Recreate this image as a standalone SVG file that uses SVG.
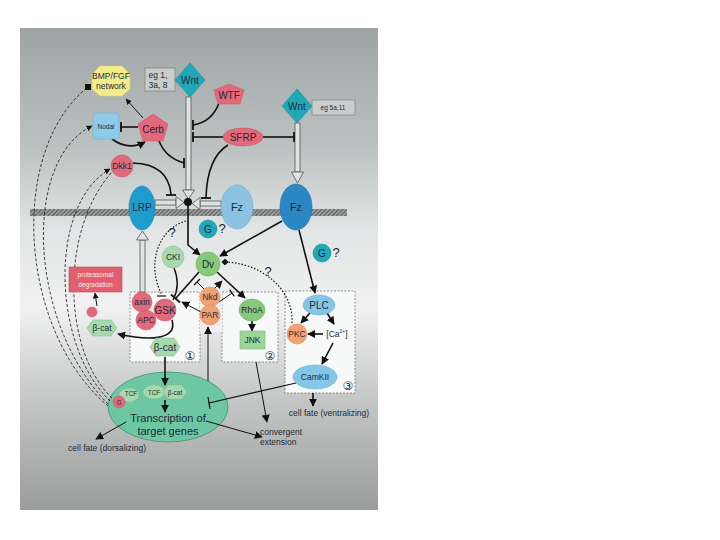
<svg xmlns="http://www.w3.org/2000/svg" width="720" height="540" viewBox="0 0 720 540">
<defs>
<linearGradient id="bg" x1="0" y1="0" x2="0" y2="1">
<stop offset="0" stop-color="#9da4a3"/>
<stop offset="0.25" stop-color="#bcc2c1"/>
<stop offset="0.42" stop-color="#e2e5e5"/>
<stop offset="0.58" stop-color="#f1f1f1"/>
<stop offset="0.75" stop-color="#c9cbcb"/>
<stop offset="1" stop-color="#9a9c9c"/>
</linearGradient>
<pattern id="hatch" width="3" height="3" patternUnits="userSpaceOnUse" patternTransform="rotate(45)">
<rect width="3" height="3" fill="#9a9a9a"/>
<line x1="0" y1="0" x2="0" y2="3" stroke="#3a3a3a" stroke-width="1.2"/>
</pattern>
<marker id="ah" viewBox="0 0 10 10" refX="9" refY="5" markerWidth="8" markerHeight="8" markerUnits="userSpaceOnUse" orient="auto">
<path d="M0,0 L10,5 L0,10 z" fill="#111"/>
</marker>
<marker id="ahs" viewBox="0 0 10 10" refX="9" refY="5" markerWidth="6" markerHeight="6" markerUnits="userSpaceOnUse" orient="auto">
<path d="M0,0 L10,5 L0,10 z" fill="#111"/>
</marker>
<marker id="ahd" viewBox="0 0 10 10" refX="5" refY="5" markerWidth="7" markerHeight="7" markerUnits="userSpaceOnUse" orient="auto">
<path d="M0,5 L5,0 L10,5 L5,10 z" fill="#111"/>
</marker>
</defs>
<style>
text{font-family:"Liberation Sans",Arial,sans-serif;fill:#1f2a36;text-anchor:middle;dominant-baseline:central}
.s{font-size:8.5px}
.xs{font-size:6.5px}
.m{font-size:10px}
.l{font-size:11px}
.w{fill:#fbecee}
.red{fill:#e2687a;stroke:#c9566a;stroke-width:0.6}
.teal{fill:#20a8b8;stroke:#1a8f9e;stroke-width:0.6}
.grn{fill:#86c97a;stroke:#6aae60;stroke-width:0.6}
.lgrn{fill:#a6d9ae;stroke:#84bf8e;stroke-width:0.6}
.org{fill:#f1a275;stroke:#d98a5e;stroke-width:0.6}
.lblue{fill:#84c6e6;stroke:#6aaed0;stroke-width:0.6}
.c{fill:none;stroke:#111;stroke-width:1.6}
.t{fill:none;stroke:#111;stroke-width:1}
.bar{stroke:#111;stroke-width:1.8}
.dash{fill:none;stroke:#111;stroke-width:0.8;stroke-dasharray:3 2}
.dot{fill:none;stroke:#111;stroke-width:1.2;stroke-dasharray:1.5 1.8}
.box{fill:#f7f8f8;stroke:#666;stroke-width:0.7;stroke-dasharray:2 1.5}
.dbl{fill:#dfe2e2;stroke:#555;stroke-width:0.8}
.egbox{fill:#c9cdcc;stroke:#7a7f7e;stroke-width:0.7}
.q{font-size:13px;fill:#222}
.num{font-family:"DejaVu Sans","Noto Sans CJK JP",sans-serif;font-size:12px}
</style>
<rect x="0" y="0" width="720" height="540" fill="#ffffff"/>
<rect x="20" y="28" width="358" height="482" fill="url(#bg)"/>
<rect id="membrane" x="30" y="209" width="317" height="7" fill="url(#hatch)"/>
<g id="box1"><rect class="box" x="130" y="292" width="70" height="70"/><text class="num" x="190" y="356">①</text></g>
<g id="box2"><rect class="box" x="222" y="292" width="56" height="70"/><text class="num" x="270" y="356">②</text></g>
<g id="box3"><rect class="box" x="285" y="291" width="70" height="102"/><text class="num" x="348" y="386">③</text></g>
<g id="nkdband"><rect x="200" y="292" width="22" height="40" fill="#eef0f0"/></g>

<g id="transcription">
<ellipse cx="168" cy="407" rx="60" ry="35" fill="#6cc7a2" stroke="#3f8f70" stroke-width="0.8"/>
<text class="l" x="168" y="418">Transcription of</text>
<text class="l" x="168" y="431">target genes</text>
</g>

<g id="connectors">
<rect class="dbl" x="186" y="97" width="5" height="93"/>
<polygon class="dbl" points="182.5,190 194.5,190 188.5,199"/>
<rect class="dbl" x="295" y="123" width="5" height="49"/>
<polygon class="dbl" points="291.5,172 303.5,172 297.5,183"/>
<rect class="dbl" x="155" y="200" width="21" height="5"/>
<polygon class="dbl" points="176,196.5 176,208.5 184,202.5"/>
<rect class="dbl" x="200" y="201" width="21" height="5"/>
<polygon class="dbl" points="200,197.5 200,209.5 192,203.5"/>
<rect class="dbl" x="140" y="240" width="5" height="52"/>
<polygon class="dbl" points="136.5,240 148.5,240 142.5,231"/>
<circle cx="188" cy="202" r="4" fill="#111"/>
<line class="t" x1="143" y1="118" x2="126" y2="99" marker-end="url(#ahs)"/>
<line class="c" x1="138" y1="127" x2="121" y2="127"/>
<line class="bar" x1="121" y1="122" x2="121" y2="132"/>
<path class="c" d="M112,139 Q128,151 145,142" marker-end="url(#ah)"/>
<path class="c" d="M159,141 Q166,158 184,163"/>
<line class="bar" x1="184" y1="158" x2="184" y2="168"/>
<path class="c" d="M219,103 Q212,122 193,125"/>
<line class="bar" x1="193" y1="120" x2="193" y2="130"/>
<line class="c" x1="193" y1="137" x2="224" y2="137"/>
<line class="bar" x1="193" y1="132" x2="193" y2="142"/>
<line class="c" x1="262" y1="137" x2="294" y2="137"/>
<line class="bar" x1="294" y1="132" x2="294" y2="142"/>
<path class="c" d="M228,145 Q207,158 206,198"/>
<line class="bar" x1="201" y1="198" x2="211" y2="198"/>
<path class="c" d="M133,163 Q168,164 171,194"/>
<line class="bar" x1="166" y1="195" x2="176" y2="195"/>
<path class="c" d="M188,202 L188,245 L200,255" marker-end="url(#ah)"/>
<line class="c" x1="282" y1="221" x2="220" y2="256" marker-end="url(#ah)"/>
<line class="c" x1="299" y1="230" x2="315" y2="293" marker-end="url(#ah)"/>
<path class="dot" d="M186,221 C160,228 145,262 162,295"/>
<line class="bar" x1="157" y1="296" x2="166" y2="296" style="stroke-width:1.2"/>
<path class="t" d="M174,268 Q181,285 173,300" style="stroke-width:1.4"/>
<line class="c" x1="199" y1="272" x2="176" y2="298"/>
<line class="bar" x1="171" y1="294.5" x2="180" y2="302.5"/>
<line class="t" x1="201" y1="312" x2="182" y2="302" marker-end="url(#ah)"/>
<line class="t" x1="204" y1="289" x2="197" y2="282"/>
<line class="bar" x1="194" y1="285" x2="200" y2="279" style="stroke-width:1.2"/>
<line class="t" x1="214" y1="289" x2="222" y2="281" marker-end="url(#ah)"/>
<line class="t" x1="219" y1="302" x2="232" y2="293"/>
<line class="bar" x1="229.7" y1="289.7" x2="234.3" y2="296.3" style="stroke-width:1.2"/>
<line class="c" x1="217" y1="272" x2="245" y2="298" marker-end="url(#ah)"/>
<line class="c" x1="252" y1="321" x2="252" y2="331" marker-end="url(#ah)"/>
<path class="dot" d="M292,323 C294,290 262,263 225,262" marker-end="url(#ahd)"/>
<line class="c" x1="310" y1="313" x2="301" y2="323" marker-end="url(#ah)"/>
<line class="c" x1="327" y1="313" x2="334" y2="324" marker-end="url(#ah)"/>
<line class="c" x1="323" y1="334" x2="308" y2="334" marker-end="url(#ah)"/>
<line class="c" x1="333" y1="343" x2="322" y2="364" marker-end="url(#ah)"/>
<line class="t" x1="296" y1="383" x2="209" y2="403" style="stroke-width:1.2"/>
<line class="bar" x1="208" y1="397" x2="210" y2="409" style="stroke-width:1.2"/>
<line class="c" x1="313" y1="393" x2="313" y2="406" marker-end="url(#ah)"/>
<line class="t" x1="256" y1="362" x2="267" y2="422" marker-end="url(#ah)"/>
<line class="t" x1="206" y1="421" x2="262" y2="437" marker-end="url(#ah)"/>
<line class="t" x1="208" y1="381" x2="208" y2="327" marker-end="url(#ah)"/>
<line class="c" x1="165" y1="357" x2="165" y2="385" marker-end="url(#ah)"/>
<line class="c" x1="165" y1="400" x2="165" y2="412" marker-end="url(#ah)"/>
<line class="t" x1="126" y1="422" x2="96" y2="439" marker-end="url(#ah)"/>
<path class="c" d="M172,320 C178,340 150,341 118,334" marker-end="url(#ah)"/>
<line class="t" x1="97" y1="306" x2="95" y2="293" marker-end="url(#ahs)"/>
<path class="dash" d="M108,406 C18,330 8,150 88,87"/>
<rect x="85" y="84" width="6" height="6" fill="#111"/>
<path class="dash" d="M108,404 C28,322 22,160 92,126" marker-end="url(#ahs)"/>
<path class="dash" d="M110,401 C52,345 48,205 110,169" marker-end="url(#ahs)"/>
<path class="dash" d="M112,398 C62,350 60,230 112,172"/>
</g>

<g id="bmp"><polygon points="100,66 122,66 130,74 130,89 122,96 100,96 92,89 92,74" fill="#f3ec8a" stroke="#d9d070" stroke-width="0.6"/><text class="s" x="111" y="76">BMP/FGF</text><text class="s" x="111" y="86">network</text></g>
<g id="eg1"><rect class="egbox" x="145" y="68" width="30" height="23"/><text class="s" x="158" y="75">eg 1,</text><text class="s" x="158" y="85">3a, 8</text></g>
<g id="wnt1"><polygon class="teal" points="190,63 205,80 190,97 175,80"/><text class="m" x="190" y="80">Wnt</text></g>
<g id="wtf"><polygon class="red" points="229,84 244,90 240,104 218,104 214,90"/><text class="m" x="229" y="95">WTF</text></g>
<g id="wnt2"><polygon class="teal" points="297,89 312,106 297,123 282,106"/><text class="m" x="297" y="106">Wnt</text></g>
<g id="eg2"><rect class="egbox" x="312" y="100" width="43" height="15"/><text class="xs" x="333" y="107.5">eg 5a,11</text></g>
<g id="nodal"><rect x="93" y="113" width="26" height="26" rx="3" fill="#8ecbe9" stroke="#6cb0d2" stroke-width="0.6"/><text class="xs" x="106" y="126">Nodal</text></g>
<g id="cerb"><polygon class="red" points="153,114 168,124 163,141 143,141 138,124"/><text class="m" x="153" y="129">Cerb</text></g>
<g id="sfrp"><ellipse class="red" cx="243" cy="137" rx="20" ry="9"/><text class="m" x="243" y="137">SFRP</text></g>
<g id="dkk1"><circle class="red" cx="122" cy="166" r="11"/><text class="s" x="122" y="166">Dkk1</text></g>
<g id="lrp"><ellipse cx="142" cy="208" rx="13" ry="22" fill="#1e9dcc" stroke="#1783ad" stroke-width="0.6"/><text class="m" x="142" y="207">LRP</text></g>
<g id="fz1"><ellipse cx="237" cy="207" rx="16" ry="22" fill="#8cc3e3" stroke="#6fa9cb" stroke-width="0.6"/><text class="l" x="237" y="207">Fz</text></g>
<g id="fz2"><ellipse cx="296" cy="207" rx="16" ry="23" fill="#2a87c6" stroke="#1f6fa6" stroke-width="0.6"/><text class="l" x="296" y="207">Fz</text></g>
<g id="g1"><circle class="teal" cx="208" cy="229" r="9"/><text class="m" x="208" y="229">G</text><text class="q" x="222" y="228">?</text></g>
<g id="g2"><circle class="teal" cx="322" cy="253" r="9"/><text class="m" x="322" y="253">G</text><text class="q" x="336" y="252">?</text></g>
<g id="q1"><text class="q" x="172" y="232">?</text></g>
<g id="q2"><text class="q" x="268" y="271">?</text></g>
<g id="cki"><circle class="lgrn" cx="173" cy="257" r="11"/><text class="s" x="173" y="257">CKI</text></g>
<g id="dv"><circle class="grn" cx="208" cy="264" r="12"/><text class="m" x="208" y="264">Dv</text></g>
<g id="proteasome"><rect x="69" y="267" width="53" height="25" fill="#e05f71" stroke="#c24d5f" stroke-width="0.6"/><text class="xs w" x="95.5" y="274.5">proteasomal</text><text class="xs w" x="95.5" y="284.5">degradation</text></g>
<g id="pbcat"><circle class="red" cx="92" cy="312" r="5"/><polygon class="lgrn" points="87,328 93,320 111,320 117,328 111,336 93,336"/><text class="s" x="102" y="328">β-cat</text></g>
<g id="axin"><circle class="red" cx="142" cy="302" r="10"/><text class="s" x="142" y="302">axin</text></g>
<g id="apc"><circle class="red" cx="146" cy="320" r="10"/><text class="s" x="146" y="320">APC</text></g>
<g id="gsk"><circle class="red" cx="165" cy="310" r="11"/><text class="m" x="165" y="310">GSK</text></g>
<g id="bcat"><polygon class="lgrn" points="150,347 156,338 174,338 180,347 174,356 156,356"/><text class="m" x="165" y="347">β-cat</text></g>
<g id="nkd"><circle class="org" cx="210" cy="297" r="10"/><text class="s" x="210" y="297">Nkd</text></g>
<g id="par"><circle class="org" cx="210" cy="315" r="10"/><text class="s" x="210" y="315">PAR</text></g>
<g id="rhoa"><ellipse class="grn" cx="252" cy="310" rx="13" ry="11"/><text class="s" x="252" y="310">RhoA</text></g>
<g id="jnk"><rect x="240" y="331" width="25" height="18" fill="#9cd597" stroke="#7fbb7a" stroke-width="0.6"/><text class="s" x="252.5" y="340">JNK</text></g>
<g id="plc"><ellipse class="lblue" cx="319" cy="305" rx="16" ry="10"/><text class="m" x="319" y="305">PLC</text></g>
<g id="pkc"><circle class="org" cx="297" cy="334" r="10"/><text class="s" x="297" y="334">PKC</text></g>
<g id="ca"><text class="s" x="337" y="334">[Ca<tspan font-size="5" dy="-3">2+</tspan><tspan dy="3">]</tspan></text></g>
<g id="camkii"><ellipse class="lblue" cx="315" cy="377" rx="22" ry="12"/><text class="s" x="315" y="377">CamKII</text></g>
<g id="complex"><ellipse class="lgrn" cx="154" cy="392" rx="11" ry="7"/><text class="xs" x="154" y="392">TCF</text><polygon class="lgrn" points="163,392 168,385 182,385 187,392 182,399 168,399"/><text class="xs" x="175" y="392">β-cat</text></g>
<g id="tcfg"><ellipse class="lgrn" cx="129" cy="395" rx="10" ry="7"/><text class="xs" x="131" y="393">TCF</text><circle class="red" cx="119" cy="402" r="6"/><text class="xs" x="119" y="402">G</text></g>
<g id="labels">
<text class="s" x="107" y="448">cell fate (dorsalizing)</text>
<text class="s" x="329" y="413">cell fate (ventralizing)</text>
<text class="s" x="260" y="432" style="text-anchor:start">convergent</text>
<text class="s" x="260" y="442" style="text-anchor:start">extension</text>
</g>
</svg>
